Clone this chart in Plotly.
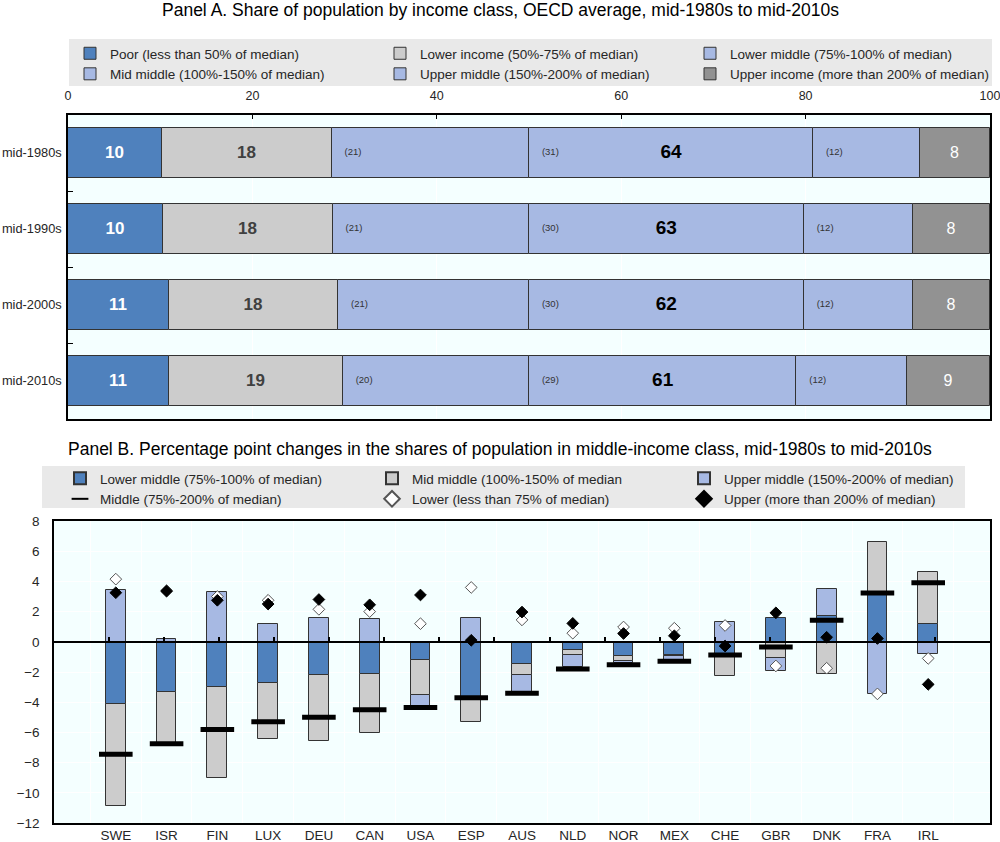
import plotly.graph_objects as go

# ---------------- Data ----------------
# Panel A: share of population by income class (OECD average, %)
periods = ["mid-1980s", "mid-1990s", "mid-2000s", "mid-2010s"]
poor = [10.2, 10.3, 10.9, 11.0]
lower_income = [18.4, 18.4, 18.4, 18.8]
lower_middle = [21.4, 21.3, 20.7, 20.2]
mid_middle = [30.8, 29.8, 29.8, 29.0]
upper_middle = [11.6, 11.8, 11.8, 12.0]
upper_income = [7.6, 8.4, 8.4, 9.0]
xticks_a = [0, 20, 40, 60, 80, 100]

# Panel B: percentage point changes, mid-1980s to mid-2010s
countries = ["SWE", "ISR", "FIN", "LUX", "DEU", "CAN", "USA", "ESP", "AUS",
             "NLD", "NOR", "MEX", "CHE", "GBR", "DNK", "FRA", "IRL"]
lower_middle_chg = [-4.1, -3.3, -3.0, -2.7, -2.2, -2.1, -1.2, -3.7, -1.5,
                    -0.55, -0.95, -0.9, -0.8, 1.55, 1.7, 3.2, 1.15]
mid_middle_chg = [-6.8, -3.45, -6.05, -3.75, -4.4, -3.95, -2.35, -1.6, -0.7,
                  -0.3, -0.3, -0.05, -1.45, -1.05, -2.15, 3.4, 3.5]
upper_middle_chg = [3.4, 0.2, 3.3, 1.15, 1.55, 1.5, -0.75, 1.6, -1.15,
                    -0.8, -0.15, -0.25, 1.3, -0.9, 1.8, -3.45, -0.8]
middle_chg = [-7.45, -6.75, -5.8, -5.3, -5.0, -4.5, -4.35, -3.7, -3.4,
              -1.8, -1.52, -1.28, -0.88, -0.35, 1.42, 3.23, 3.91]
lower_chg = [4.15, 3.4, 3.0, 2.75, 2.15, 2.0, 1.2, 3.6, 1.45,
             0.57, 0.98, 0.9, 1.08, -1.6, -1.75, -3.45, -1.1]
upper_chg = [3.25, 3.35, 2.75, 2.5, 2.8, 2.45, 3.1, 0.1, 1.97,
             1.22, 0.55, 0.4, -0.28, 1.92, 0.3, 0.22, -2.82]
yticks_b = list(range(-12, 9, 2))

# ---------------- Style ----------------
FONT = "Liberation Sans, Arial, sans-serif"
C_BLUE = "#4F81BD"
C_GRAY = "#CCCCCC"
C_LBLUE = "#A7B9E3"
C_DGRAY = "#929292"
C_BG = "#F4FFFF"
C_LEG = "#E9E9E9"
C_TXT = "#262626"
EDGE = dict(color="#333333", width=1)

W, H = 1000, 842


def fx(p):
    return p / W


def fy(p):
    return 1 - p / H


fig = go.Figure()

# ---------------- Panel A ----------------
segments = [
    ("Poor (less than 50% of median)", poor, C_BLUE),
    ("Lower income (50%-75% of median)", lower_income, C_GRAY),
    ("Lower middle (75%-100% of median)", lower_middle, C_LBLUE),
    ("Mid middle (100%-150% of median)", mid_middle, C_LBLUE),
    ("Upper middle (150%-200% of median)", upper_middle, C_LBLUE),
    ("Upper income (more than 200% of median)", upper_income, C_DGRAY),
]
bar_text_style = {
    0: dict(tmpl="<b>%{text}</b>", font=dict(family=FONT, size=17, color="white")),
    1: dict(tmpl="<b>%{text}</b>", font=dict(family=FONT, size=17, color="#404040")),
    5: dict(tmpl="%{text}", font=dict(family=FONT, size=16, color="white")),
}
for i, (name, vals, col) in enumerate(segments):
    kw = {}
    if i in bar_text_style:
        kw = dict(text=[str(round(v)) for v in vals],
                  texttemplate=bar_text_style[i]["tmpl"],
                  textposition="inside", insidetextanchor="middle",
                  textfont=bar_text_style[i]["font"], textangle=0)
    fig.add_trace(go.Bar(
        x=vals, y=periods, orientation="h", name=name,
        marker=dict(color=col, line=EDGE), width=0.66,
        xaxis="x", yaxis="y", legend="legend", hoverinfo="skip", **kw))

# cumulative starts of each segment
starts = []
acc = [0.0] * len(periods)
for _, vals, _ in segments:
    starts.append(list(acc))
    acc = [a + v for a, v in zip(acc, vals)]

# small bracketed labels in the three middle segments
for i in (2, 3, 4):
    vals = segments[i][1]
    fig.add_trace(go.Scatter(
        x=[s + 1.4 for s in starts[i]], y=periods, mode="text",
        text=["(%d)" % round(v) for v in vals], textposition="middle right",
        textfont=dict(family=FONT, size=9.5, color="#333333"),
        xaxis="x", yaxis="y", showlegend=False, hoverinfo="skip"))

# total middle-income share, centred in the mid-middle segment
middle_total = [a + b + c for a, b, c in zip(lower_middle, mid_middle, upper_middle)]
fig.add_trace(go.Scatter(
    x=[s + v / 2 for s, v in zip(starts[3], mid_middle)], y=periods, mode="text",
    text=["<b>%d</b>" % round(t) for t in middle_total], textposition="middle center",
    textfont=dict(family=FONT, size=19, color="black"),
    xaxis="x", yaxis="y", showlegend=False, hoverinfo="skip"))

# ---------------- Panel B ----------------
b_series = [
    ("Lower middle (75%-100% of median)", lower_middle_chg, C_BLUE),
    ("Mid middle (100%-150% of median", mid_middle_chg, C_GRAY),
    ("Upper middle (150%-200% of median)", upper_middle_chg, C_LBLUE),
]
for name, vals, col in b_series:
    fig.add_trace(go.Bar(
        x=countries, y=vals, name=name, width=0.39,
        marker=dict(color=col, line=EDGE),
        xaxis="x2", yaxis="y2", legend="legend2", hoverinfo="skip"))

fig.add_trace(go.Scatter(
    x=countries, y=middle_chg, mode="markers", name="Middle (75%-200% of median)",
    marker=dict(symbol="line-ew", size=24, line=dict(color="black", width=5)),
    xaxis="x2", yaxis="y2", legend="legend2", hoverinfo="skip"))
fig.add_trace(go.Scatter(
    x=countries, y=lower_chg, mode="markers", name="Lower (less than 75% of median)",
    marker=dict(symbol="diamond", size=9, color="white", line=dict(color="#555555", width=1)),
    xaxis="x2", yaxis="y2", legend="legend2", hoverinfo="skip"))
fig.add_trace(go.Scatter(
    x=countries, y=upper_chg, mode="markers", name="Upper (more than 200% of median)",
    marker=dict(symbol="diamond", size=9, color="black", line=dict(color="black", width=1)),
    xaxis="x2", yaxis="y2", legend="legend2", hoverinfo="skip"))
# helper trace so the zero-line tick axis is drawn
fig.add_trace(go.Scatter(x=[None], y=[None], xaxis="x3", yaxis="y2",
                         showlegend=False, hoverinfo="skip"))

# ---------------- Layout ----------------
domA_x = [fx(68), fx(990)]
domA_y = [fy(419), fy(115)]
domB_x = [fx(54), fx(990)]
domB_y = [fy(823), fy(521)]
yb_min, yb_max = min(yticks_b), max(yticks_b)
zero_pos = domB_y[0] + (0 - yb_min) / (yb_max - yb_min) * (domB_y[1] - domB_y[0])
n = len(countries)

tickfont = dict(family=FONT, size=13.5, color=C_TXT)
legfont = dict(family=FONT, size=13.5, color=C_TXT)

fig.update_layout(
    width=W, height=H,
    margin=dict(l=0, r=0, t=0, b=0, autoexpand=False),
    paper_bgcolor="white", plot_bgcolor=C_BG,
    barmode="relative", bargap=0, hovermode=False,
    font=dict(family=FONT, size=13.5, color=C_TXT),
    xaxis=dict(domain=domA_x, anchor="y", side="top", range=[0, 100],
               tickvals=xticks_a, ticks="inside", ticklen=4, tickcolor="black",
               tickfont=dict(family=FONT, size=12.5, color=C_TXT), ticklabelstandoff=8,
               ticklabeloverflow="allow",
               showline=True, linecolor="black", linewidth=1.5, mirror=True,
               showgrid=True, gridcolor="white", gridwidth=1, zeroline=False),
    yaxis=dict(domain=domA_y, anchor="x", type="category", autorange="reversed",
               ticks="inside", tickson="boundaries", ticklen=5, tickcolor="black",
               tickfont=dict(family=FONT, size=12.8, color=C_TXT), ticklabelstandoff=2,
               ticklabeloverflow="allow",
               showline=True, linecolor="black", linewidth=1.5, mirror=True,
               showgrid=False, zeroline=False),
    xaxis2=dict(domain=domB_x, anchor="y2", type="category",
                ticks="", tickson="boundaries", tickfont=tickfont, ticklabelstandoff=-1,
                ticklabeloverflow="allow",
                showline=True, linecolor="black", linewidth=1.5, mirror=True,
                showgrid=True, gridcolor="white", gridwidth=1),
    yaxis2=dict(domain=domB_y, anchor="x2", range=[yb_min, yb_max], tickvals=yticks_b,
                ticks="", tickfont=tickfont, ticklabelstandoff=10,
                ticklabeloverflow="allow",
                showline=True, linecolor="black", linewidth=1.5, mirror=True,
                showgrid=True, gridcolor="white", gridwidth=1, zeroline=False),
    xaxis3=dict(overlaying="x2", anchor="free", position=zero_pos,
                range=[-0.5, n - 0.5], tickvals=[i + 0.5 for i in range(n - 1)],
                showticklabels=False, ticks="inside", ticklen=4, tickcolor="black",
                tickwidth=1.5, showline=True, linecolor="black", linewidth=1.5,
                showgrid=False, zeroline=False),
    legend=dict(orientation="h", x=fx(70), y=fy(38), xanchor="left", yanchor="top",
                bgcolor="rgba(0,0,0,0)", entrywidth=265, entrywidthmode="pixels",
                traceorder="normal", font=legfont,
                itemclick=False, itemdoubleclick=False),
    legend2=dict(orientation="h", x=fx(60), y=fy(463), xanchor="left", yanchor="top",
                 bgcolor="rgba(0,0,0,0)", entrywidth=267, entrywidthmode="pixels",
                 traceorder="normal", itemsizing="constant", font=legfont,
                 itemclick=False, itemdoubleclick=False),
    shapes=[
        dict(type="rect", xref="paper", yref="paper", x0=fx(69), x1=fx(992),
             y0=fy(86), y1=fy(39), fillcolor=C_LEG, line=dict(width=0), layer="below"),
        dict(type="rect", xref="paper", yref="paper", x0=fx(42), x1=fx(965),
             y0=fy(508), y1=fy(466), fillcolor=C_LEG, line=dict(width=0), layer="below"),
    ],
    annotations=[
        dict(text="Panel A. Share of population by income class, OECD average, mid-1980s to mid-2010s",
             xref="paper", yref="paper", x=0.5, y=fy(10), xanchor="center", yanchor="middle",
             showarrow=False, font=dict(family=FONT, size=17.5, color="black")),
        dict(text="Panel B. Percentage point changes in the shares of population in middle-income class, mid-1980s to mid-2010s",
             xref="paper", yref="paper", x=0.5, y=fy(449), xanchor="center", yanchor="middle",
             showarrow=False, font=dict(family=FONT, size=17.5, color="black")),
    ],
)

fig.write_html("out.html")
